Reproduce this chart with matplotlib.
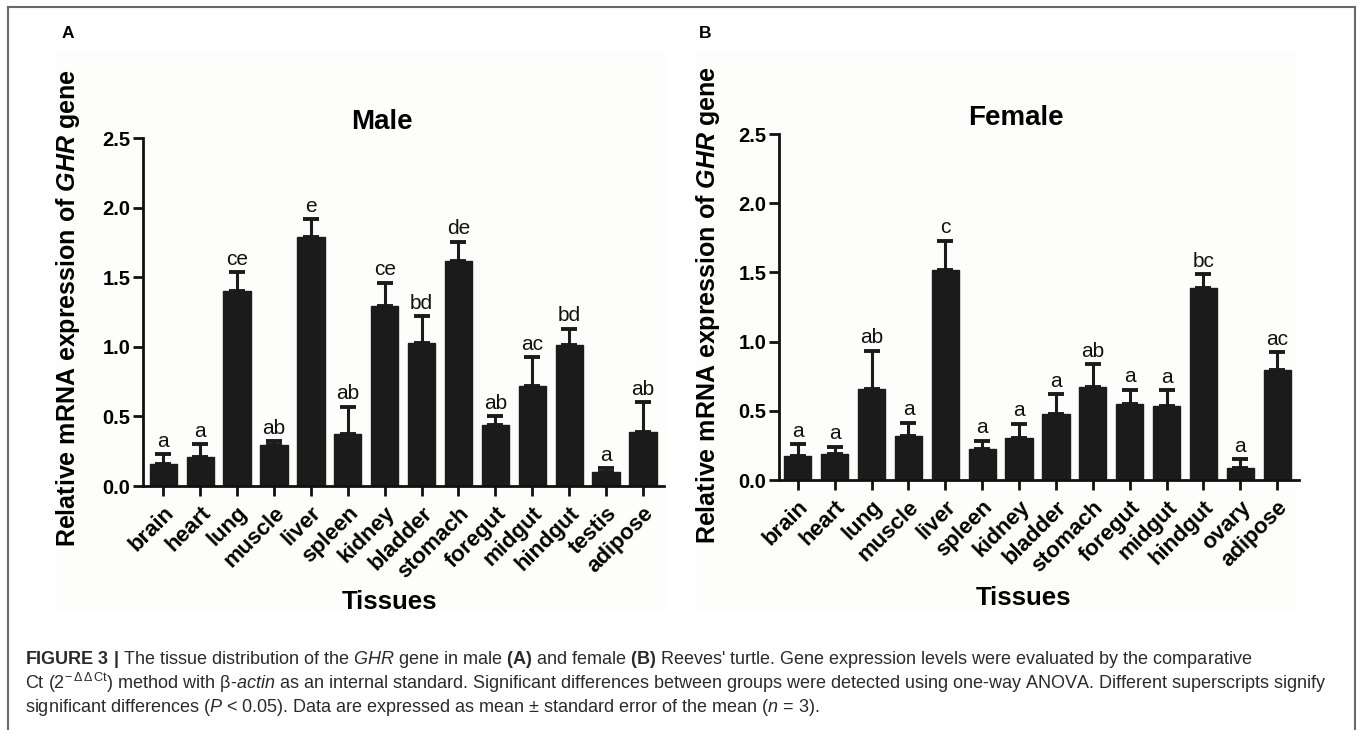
import matplotlib
matplotlib.use("Agg")
import matplotlib.pyplot as plt
from matplotlib.lines import Line2D
from matplotlib.patches import Rectangle
import numpy as np

# ---------------- data ----------------
male_tissues = ["brain", "heart", "lung", "muscle", "liver", "spleen", "kidney",
                "bladder", "stomach", "foregut", "midgut", "hindgut", "testis", "adipose"]
male_means = [0.16, 0.21, 1.40, 0.295, 1.79, 0.375, 1.29, 1.03, 1.615, 0.435, 0.72, 1.01, 0.098, 0.385]
male_sem = [0.07, 0.09, 0.135, 0.025, 0.125, 0.195, 0.17, 0.19, 0.14, 0.065, 0.205, 0.12, 0.03, 0.215]
male_letters = ["a", "a", "ce", "ab", "e", "ab", "ce", "bd", "de", "ab", "ac", "bd", "a", "ab"]

female_tissues = ["brain", "heart", "lung", "muscle", "liver", "spleen", "kidney",
                  "bladder", "stomach", "foregut", "midgut", "hindgut", "ovary", "adipose"]
female_means = [0.175, 0.19, 0.655, 0.32, 1.515, 0.225, 0.305, 0.475, 0.67, 0.547, 0.537, 1.385, 0.085, 0.797]
female_sem = [0.085, 0.05, 0.28, 0.095, 0.215, 0.06, 0.10, 0.145, 0.165, 0.105, 0.11, 0.10, 0.065, 0.125]
female_letters = ["a", "a", "ab", "a", "c", "a", "a", "a", "ab", "a", "a", "bc", "a", "ac"]

yticks = [0.0, 0.5, 1.0, 1.5, 2.0, 2.5]

W, H = 1358, 730
plt.rcParams["font.family"] = ["Liberation Sans", "DejaVu Sans"]
plt.rcParams["mathtext.fontset"] = "custom"
plt.rcParams["mathtext.rm"] = "Liberation Sans"
plt.rcParams["mathtext.it"] = "Liberation Sans:italic"
plt.rcParams["mathtext.bf"] = "Liberation Sans:bold"
plt.rcParams["mathtext.bfit"] = "Liberation Sans:italic:bold"
plt.rcParams["mathtext.sf"] = "Liberation Sans"

fig = plt.figure(figsize=(W / 100, H / 100), dpi=100)
fig.patch.set_facecolor("white")


def fx(px):
    return px / W


def fy(py):
    return 1 - py / H


bar_color = "#1b1b1b"
ink = "#111111"

# very faint off-white panel backgrounds (as in the scanned figure)
for x0, x1 in [(57, 666), (697, 1297)]:
    fig.add_artist(Rectangle((fx(x0), fy(611)), fx(x1) - fx(x0), fy(50) - fy(611),
                             transform=fig.transFigure, facecolor="#fdfdfc",
                             edgecolor="none", zorder=0))


def panel(rect, xlim, tissues, means, sem, letters, title, title_xy, xlab_xy, ylab_xy):
    ax = fig.add_axes(rect)
    x = np.arange(len(tissues))
    ax.bar(x, means, width=0.74, color=bar_color, edgecolor=bar_color, zorder=2)
    ax.errorbar(x, means, yerr=[np.zeros(len(sem)), sem], fmt="none",
                ecolor=bar_color, elinewidth=2.2, capsize=5.6, capthick=2.8, zorder=1)
    for xi, m, s, lab in zip(x, means, sem, letters):
        ax.annotate(lab, (xi, m + s), xytext=(0, 2.5), textcoords="offset points",
                    ha="center", va="bottom", fontsize=15, color=ink)
    ax.set_xlim(*xlim)
    ax.set_ylim(0, 2.5)
    ax.set_yticks(yticks)
    ax.set_yticklabels([f"{v:.1f}" for v in yticks], fontsize=14.5, fontweight="bold")
    ax.set_xticks(x)
    ax.set_xticklabels(tissues, rotation=45, ha="right", rotation_mode="anchor",
                       fontsize=16, fontweight="bold")
    for s in ["top", "right"]:
        ax.spines[s].set_visible(False)
    for s in ["left", "bottom"]:
        ax.spines[s].set_linewidth(2.0)
        ax.spines[s].set_color(ink)
    ax.tick_params(axis="both", direction="out", width=2.0, length=7, color=ink, pad=2)
    ax.tick_params(axis="x", pad=5)
    ax.patch.set_alpha(0)
    fig.text(fx(title_xy[0]), fy(title_xy[1]), title, ha="center", va="center",
             fontsize=20, fontweight="bold")
    fig.text(fx(xlab_xy[0]), fy(xlab_xy[1]), "Tissues", ha="center", va="center",
             fontsize=18.5, fontweight="bold")
    fig.text(fx(ylab_xy[0]), fy(ylab_xy[1]),
             r"Relative mRNA expression of $\mathbfit{GHR}$ gene", rotation=90,
             ha="center", va="center", fontsize=18, fontweight="bold")
    return ax


# Male panel
mx0, mx1, my_top, my_bot = 143, 664, 138, 486
panel([fx(mx0), fy(my_bot), (mx1 - mx0) / W, (my_bot - my_top) / H], (-0.55, 13.57),
      male_tissues, male_means, male_sem, male_letters, "Male",
      (382, 122), (390, 602), (68, 308))

# Female panel
fx0, fx1, fy_top, fy_bot = 779, 1299, 134, 480
panel([fx(fx0), fy(fy_bot), (fx1 - fx0) / W, (fy_bot - fy_top) / H], (-0.51, 13.59),
      female_tissues, female_means, female_sem, female_letters, "Female",
      (1016, 118), (1024, 598), (708, 305))

# panel letters
fig.text(fx(68), fy(34), "A", ha="center", va="center", fontsize=12.5, fontweight="bold")
fig.text(fx(705), fy(34), "B", ha="center", va="center", fontsize=12.5, fontweight="bold")

# frame lines
fc = "#6a6a6a"
fig.add_artist(Line2D([fx(7.5), fx(7.5)], [fy(6.5), 0], color=fc, lw=1.5, transform=fig.transFigure))
fig.add_artist(Line2D([fx(1354.5), fx(1354.5)], [fy(6.5), 0], color=fc, lw=1.5, transform=fig.transFigure))
fig.add_artist(Line2D([fx(7.5), fx(1354.5)], [fy(6.5), fy(6.5)], color=fc, lw=1.5, transform=fig.transFigure))

# caption
cap_color = "#2a2a2a"
cap_fs = 13
line1 = (r"$\mathbf{FIGURE\ 3\ |}$ The tissue distribution of the $\mathit{GHR}$ gene in male "
         r"$\mathbf{(A)}$ and female $\mathbf{(B)}$ Reeves' turtle. Gene expression levels were "
         r"evaluated by the comparative")
line2 = (r"Ct (2$^{-\,\Delta\,\Delta\,\mathrm{Ct}}$) method with β-$\mathit{actin}$ as an internal standard. "
         r"Significant differences between groups were detected using one-way ANOVA. Different "
         r"superscripts signify")
line3 = (r"significant differences ($\mathit{P}$ < 0.05). Data are expressed as mean ± standard "
         r"error of the mean ($\mathit{n}$ = 3).")
for txt, yy in [(line1, 659), (line2, 683), (line3, 707)]:
    fig.text(fx(25), fy(yy), txt, ha="left", va="center", fontsize=cap_fs, color=cap_color)

fig.savefig("out.png", dpi=100, facecolor="white")
